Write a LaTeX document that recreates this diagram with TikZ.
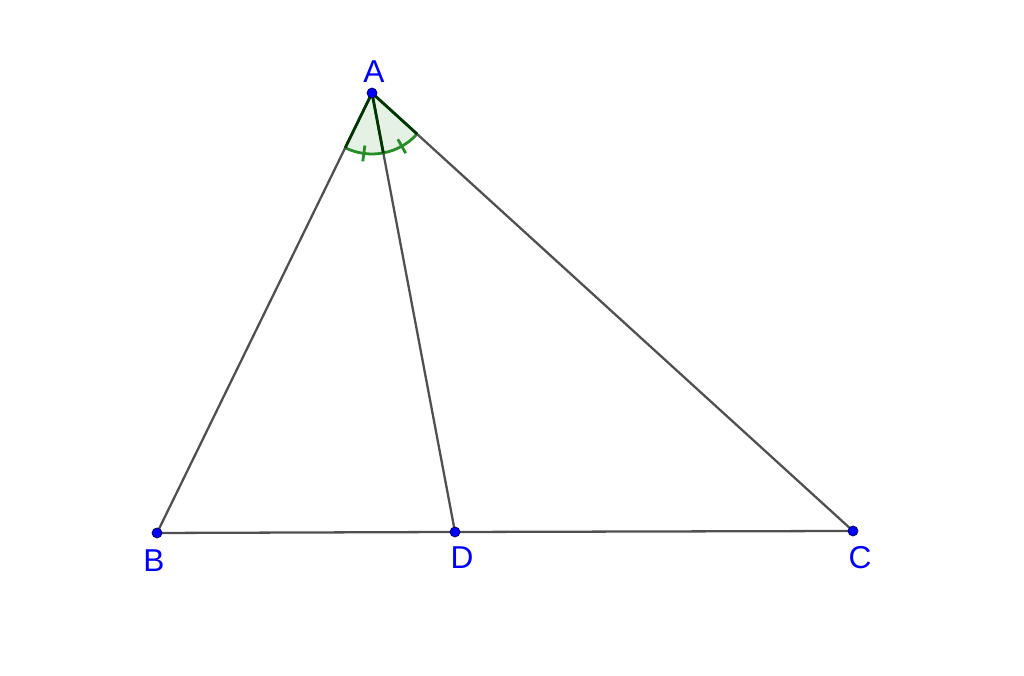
\documentclass[tikz,border=0pt]{standalone}
\usepackage{fontspec}
\setmainfont{Liberation Sans}
\usetikzlibrary{calc}
\definecolor{ptblue}{RGB}{0,0,255}
\definecolor{segcol}{RGB}{80,80,80}
\definecolor{angcol}{RGB}{0,100,0}
\definecolor{arccol}{RGB}{40,140,40}

\begin{document}
\begin{tikzpicture}[
    pt/.style={circle, fill=ptblue, draw=black!70!blue, inner sep=0pt, minimum size=0.2cm},
    lbl/.style={text=ptblue, font=\fontsize{18}{20}\selectfont, inner sep=0pt},
    seg/.style={draw=segcol, line width=1.3pt},
    angmark/.style={draw=arccol, line width=1.6pt}
]
    \useasboundingbox (0,0) rectangle (20.48,13.52);

    % Points
    \coordinate (A) at (7.44,11.66);
    \coordinate (B) at (3.14,2.86);
    \coordinate (D) at (9.10,2.88);
    \coordinate (C) at (17.06,2.90);

    % Angle sector at A
    \fill[green!30!gray!60, opacity=0.25] (A) -- ++(-116.04:1.22) arc[start angle=-116.04, end angle=-42.3, radius=1.22] -- cycle;
    \draw[angmark] ($(A)+(-116.04:1.22)$) arc[start angle=-116.04, end angle=-42.3, radius=1.22];
    \draw[angmark] ($(A)+(-97.7:1.06)$) -- ($(A)+(-97.7:1.38)$);
    \draw[angmark] ($(A)+(-60.8:1.06)$) -- ($(A)+(-60.8:1.38)$);

    % Triangle and segment AD
    \draw[seg] (A) -- (B);
    \draw[seg] (B) -- (D);
    \draw[seg] (D) -- (C);
    \draw[seg] (A) -- (C);
    \draw[seg] (A) -- (D);

    % Sector edges
    \draw[angcol!55!black, line width=1.6pt] (A) -- ++(-116.04:1.22);
    \draw[angcol!55!black, line width=1.6pt] (A) -- ++(-79.3:1.22);
    \draw[angcol!55!black, line width=1.6pt] (A) -- ++(-42.3:1.22);

    % Dots and labels
    \node[pt] (dotA) at (A) {};
    \node[pt] (dotB) at (B) {};
    \node[pt] (dotD) at (D) {};
    \node[pt] (dotC) at (C) {};
    \node[lbl] (labA) at (7.48,12.08) {A};
    \node[lbl] (labB) at (3.08,2.3) {B};
    \node[lbl] (labD) at (9.24,2.36) {D};
    \node[lbl] (labC) at (17.2,2.36) {C};

\end{tikzpicture}
\end{document}
